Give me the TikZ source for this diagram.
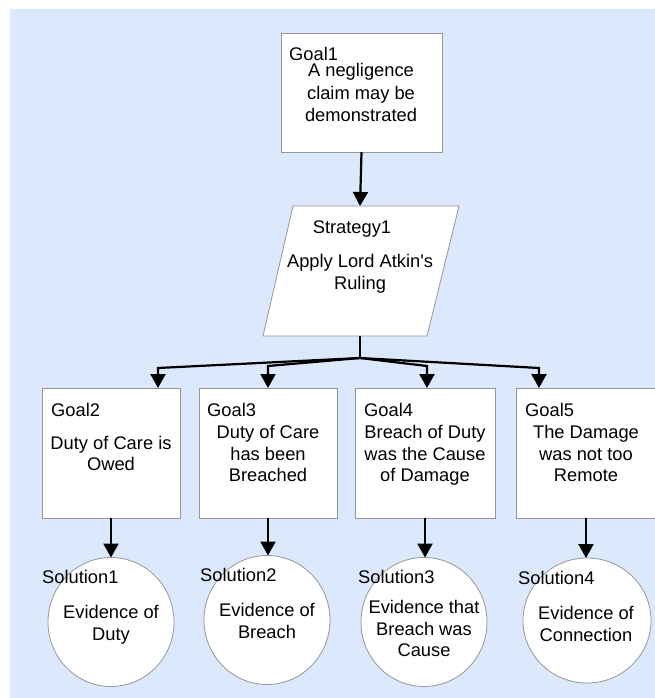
\documentclass[tikz,border=0pt]{standalone}
\usepackage{fontspec}
\setmainfont{Liberation Sans}[Ligatures=TeXOff]
\usetikzlibrary{arrows.meta,shapes.geometric}
\definecolor{bgblue}{RGB}{220,232,252}
\definecolor{edgegray}{RGB}{150,150,150}
\begin{document}
\begin{tikzpicture}[x=1pt,y=-1pt,
  every node/.style={font=\fontsize{18.3}{22}\selectfont},
  goalbox/.style={draw=edgegray, line width=0.8pt, fill=white, rectangle, outer sep=0pt, inner sep=0pt},
  solcirc/.style={draw=edgegray, line width=0.8pt, fill=white, ellipse, outer sep=0pt, inner sep=0pt, minimum width=126pt, minimum height=129pt},
  conn/.style={line width=2.2pt, black},
  arr/.style={conn, -{Triangle[width=15pt,length=14pt]}},
  txt/.style={inner sep=0pt, anchor=base},
  lbl/.style={inner sep=0pt, anchor=base west}]
\useasboundingbox (0,0) rectangle (654,698);
\fill[bgblue] (10,9) rectangle (670,710);

% shapes
\node[goalbox, minimum width=161pt, minimum height=119pt] (g1) at (361.5,92.5) {};
\fill[white, draw=edgegray, line width=0.8pt] (293,206) -- (459,206) -- (427,336) -- (263,336) -- cycle;
\node[inner sep=0pt, outer sep=0pt, minimum width=10pt, minimum height=130pt] (s1) at (360,271) {};
\node[goalbox, minimum width=138pt, minimum height=130pt] (g2) at (111,453) {};
\node[goalbox, minimum width=138pt, minimum height=130pt] (g3) at (268,453) {};
\node[goalbox, minimum width=140pt, minimum height=130pt] (g4) at (425,453) {};
\node[goalbox, minimum width=140pt, minimum height=130pt] (g5) at (586,453) {};
\node[solcirc] (sol1) at (111,622) {};
\node[solcirc] (sol2) at (267,620) {};
\node[solcirc] (sol3) at (424,622) {};
\node[solcirc, minimum width=128pt, minimum height=125pt] (sol4) at (587,620.5) {};

% connectors
\coordinate (j) at (360,358);
\coordinate (c2) at (158,368);
\coordinate (c3) at (268,366);
\coordinate (c4) at (427,366);
\coordinate (c5) at (539,368);
\draw[arr] (g1.south) -- (s1.north);
\draw[conn] (s1.south) -- (j);
\draw[arr] (j) -- (c2) -- (c2 |- g2.north);
\draw[arr] (j) -- (c3) -- (c3 |- g3.north);
\draw[arr] (j) -- (c4) -- (c4 |- g4.north);
\draw[arr] (j) -- (c5) -- (c5 |- g5.north);
\draw[arr] (g2.south) -- (sol1.north);
\draw[arr] (g3.south) -- (g3.south |- sol2.north);
\draw[arr] (g4.south) -- (g4.south |- sol3.north);
\draw[arr] (g5.south) -- (g5.south |- sol4.north);

% texts
\node[lbl] (t1) at (289,60.7) {Goal1};
\node[txt] (t1a) at (361,76.7) {A negligence};
\node[txt] (t1b) at (361,99.3) {claim may be};
\node[txt] (t1c) at (361,121.7) {demonstrated};

\node[txt] (ts) at (352,233.3) {Strategy1};
\node[txt] (tsa) at (360,267.3) {Apply Lord Atkin's};
\node[txt] (tsb) at (360,289.3) {Ruling};

\node[lbl] (t2) at (51,416) {Goal2};
\node[txt] (t2a) at (111,449) {Duty of Care is};
\node[txt] (t2b) at (111,470.7) {Owed};

\node[lbl] (t3) at (207,416) {Goal3};
\node[txt] (t3a) at (268,438.3) {Duty of Care};
\node[txt] (t3b) at (268,460) {has been};
\node[txt] (t3c) at (268,481.7) {Breached};

\node[lbl] (t4) at (364,416) {Goal4};
\node[txt] (t4a) at (425,438.3) {Breach of Duty};
\node[txt] (t4b) at (425,460) {was the Cause};
\node[txt] (t4c) at (425,481.7) {of Damage};

\node[lbl] (t5) at (525,416) {Goal5};
\node[txt] (t5a) at (586,438.3) {The Damage};
\node[txt] (t5b) at (586,460) {was not too};
\node[txt] (t5c) at (586,481.7) {Remote};

\node[lbl] (u1) at (42,583.3) {Solution1};
\node[txt] (u1a) at (111,618.3) {Evidence of};
\node[txt] (u1b) at (111,640) {Duty};

\node[lbl] (u2) at (200,581.7) {Solution2};
\node[txt] (u2a) at (267,616.7) {Evidence of};
\node[txt] (u2b) at (267,638) {Breach};

\node[lbl] (u3) at (358,583.3) {Solution3};
\node[txt] (u3a) at (424,613.3) {Evidence that};
\node[txt] (u3b) at (424,635) {Breach was};
\node[txt] (u3c) at (424,656.7) {Cause};

\node[lbl] (u4) at (518,584) {Solution4};
\node[txt] (u4a) at (586,619.3) {Evidence of};
\node[txt] (u4b) at (586,641) {Connection};
\end{tikzpicture}
\end{document}
